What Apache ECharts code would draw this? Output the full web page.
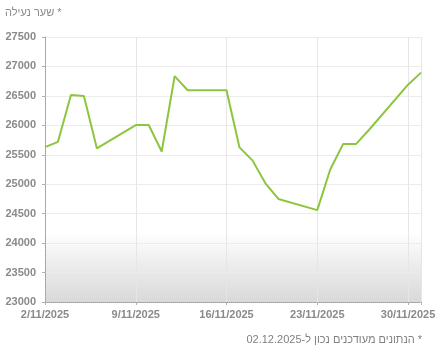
<!DOCTYPE html>
<html>
<head>
<meta charset="utf-8">
<script src="https://cdn.jsdelivr.net/npm/echarts@6/dist/echarts.min.js"></script>
<style>
html,body{margin:0;padding:0;background:#fff;}
#chart{width:445px;height:350px;}
</style>
</head>
<body>
<div id="chart"></div>
<script>
// Data
const startDate = '2025-11-02';
const dates = ['2025-11-02','2025-11-03','2025-11-04','2025-11-05','2025-11-06',
  '2025-11-09','2025-11-10','2025-11-11','2025-11-12','2025-11-13',
  '2025-11-16','2025-11-17','2025-11-18','2025-11-19','2025-11-20',
  '2025-11-23','2025-11-24','2025-11-25','2025-11-26','2025-11-27',
  '2025-11-30','2025-12-01'];
const closingRates = [25630,25720,26515,26500,25610,
  26005,26005,25555,26835,26595,
  26595,25625,25405,25015,24750,
  24560,25250,25685,25685,25925,
  26690,26895];
const xTickLabels = ['2/11/2025','9/11/2025','16/11/2025','23/11/2025','30/11/2025'];
const titleText = '\u202B* שער נעילה\u202C';
const footerText = '\u202B* הנתונים מעודכנים נכון ל-02.12.2025\u202C';

const DAY = 86400000;
const t0 = Date.parse(startDate + 'T00:00:00Z');
const dayIndex = d => Math.round((Date.parse(d + 'T00:00:00Z') - t0) / DAY);
const seriesData = dates.map((d, i) => [dayIndex(d), closingRates[i]]);

const chart = echarts.init(document.getElementById('chart'), null, {renderer: 'canvas'});
const labelStyle = {color: '#8a8a8a', fontFamily: 'Liberation Sans, Arial, sans-serif', fontSize: 11, fontWeight: 'bold'};
chart.setOption({
  animation: false,
  backgroundColor: '#fff',
  title: [
    {text: titleText, left: 0, top: 2, textStyle: {color: '#8a8a8a', fontSize: 11, fontWeight: 'normal', fontFamily: 'Liberation Sans, Arial, sans-serif'}},
    {text: footerText, right: 18, top: 329, textStyle: {color: '#808080', fontSize: 11, fontWeight: 'normal', fontFamily: 'Liberation Sans, Arial, sans-serif'}}
  ],
  grid: {
    left: 45, right: 24, top: 37, bottom: 48,
    show: true, borderWidth: 0,
    backgroundColor: new echarts.graphic.LinearGradient(0, 0, 0, 1, [
      {offset: 0, color: '#ffffff'},
      {offset: 0.74, color: '#ffffff'},
      {offset: 0.85, color: '#eeeeee'},
      {offset: 1, color: '#d9d9d9'}
    ])
  },
  xAxis: {
    type: 'value', min: 0, max: 29, interval: 7,
    axisLine: {show: true, lineStyle: {color: '#9a9a9a', type: 'dotted', width: 1}},
    axisTick: {show: true, length: 3, inside: false, lineStyle: {color: '#b0b0b0'}},
    splitLine: {show: true, lineStyle: {color: '#e6e6e6', width: 1}},
    axisLabel: Object.assign({margin: 7, formatter: v => xTickLabels[v / 7] || ''}, labelStyle)
  },
  yAxis: {
    type: 'value', min: 23000, max: 27500, interval: 500,
    axisLine: {show: true, lineStyle: {color: '#9a9a9a', type: 'dotted', width: 1}},
    axisTick: {show: true, length: 3, lineStyle: {color: '#b0b0b0'}},
    splitLine: {show: true, lineStyle: {color: '#ececec', width: 1}},
    axisLabel: Object.assign({margin: 9, formatter: v => String(v)}, labelStyle)
  },
  series: [{
    type: 'line',
    data: seriesData,
    showSymbol: false,
    symbol: 'none',
    lineStyle: {color: '#8cc63f', width: 2},
    itemStyle: {color: '#8cc63f'}
  }]
});
</script>
</body>
</html>
